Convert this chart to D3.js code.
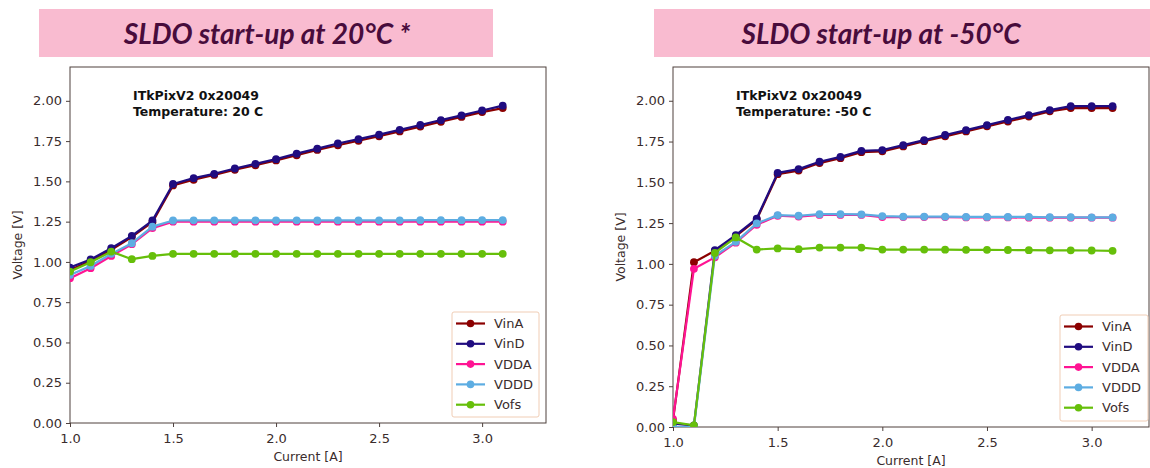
<!DOCTYPE html>
<html><head><meta charset="utf-8">
<script src="https://cdn.jsdelivr.net/npm/d3@7"></script>
<style>
html,body{margin:0;padding:0;background:#fff;}
svg{display:block;}
</style></head>
<body>
<svg id="chart" width="1150" height="468"></svg>
<script>
// ---- data ----
const current = [1.0,1.1,1.2,1.3,1.4,1.5,1.6,1.7,1.8,1.9,2.0,2.1,2.2,2.3,2.4,2.5,2.6,2.7,2.8,2.9,3.0,3.1];
const seriesNames = ["VinA","VinD","VDDA","VDDD","Vofs"];
const seriesColors = ["#8b0000","#200c80","#ff1493","#5dade2","#66bf0a"];
const xTicks = [1.0,1.5,2.0,2.5,3.0];
const yTicks = [0.00,0.25,0.50,0.75,1.00,1.25,1.50,1.75,2.00];

// 20 C
const vinA20 = [0.950,1.005,1.075,1.155,1.247,1.475,1.510,1.540,1.572,1.600,1.630,1.662,1.695,1.724,1.752,1.780,1.810,1.840,1.870,1.900,1.930,1.955];
const vinD20 = [0.965,1.015,1.085,1.162,1.257,1.484,1.520,1.547,1.580,1.609,1.638,1.672,1.703,1.735,1.762,1.790,1.820,1.850,1.880,1.910,1.940,1.970];
const vdda20 = [0.899,0.961,1.037,1.110,1.210,1.250,1.250,1.250,1.250,1.250,1.250,1.250,1.250,1.250,1.250,1.250,1.250,1.250,1.250,1.250,1.250,1.250];
const vddd20 = [0.919,0.975,1.050,1.116,1.219,1.257,1.258,1.258,1.258,1.258,1.258,1.258,1.258,1.258,1.258,1.258,1.258,1.259,1.259,1.259,1.260,1.260];
const vofs20 = [0.940,0.998,1.064,1.017,1.037,1.050,1.050,1.050,1.050,1.050,1.050,1.050,1.050,1.050,1.050,1.050,1.050,1.050,1.050,1.050,1.050,1.050];

// -50 C
const vinA50 = [0.040,1.010,1.080,1.170,1.272,1.550,1.572,1.618,1.648,1.685,1.690,1.720,1.752,1.782,1.812,1.843,1.873,1.903,1.935,1.955,1.955,1.955];
const vinD50 = [0.020,0.010,1.084,1.176,1.278,1.558,1.581,1.626,1.656,1.693,1.698,1.728,1.759,1.790,1.820,1.851,1.882,1.912,1.943,1.967,1.967,1.967];
const vdda50 = [0.050,0.970,1.040,1.130,1.240,1.295,1.290,1.300,1.300,1.300,1.287,1.287,1.287,1.287,1.285,1.285,1.285,1.283,1.283,1.283,1.283,1.283];
const vddd50 = [0.000,0.000,1.050,1.135,1.248,1.299,1.295,1.305,1.305,1.303,1.293,1.290,1.290,1.290,1.288,1.288,1.288,1.288,1.286,1.286,1.285,1.285];
const vofs50 = [0.030,0.010,1.067,1.162,1.088,1.095,1.090,1.100,1.100,1.100,1.088,1.088,1.088,1.087,1.086,1.086,1.085,1.084,1.083,1.083,1.082,1.080];

const panels = [
  {title:"SLDO start-up at 20°C *", box:[39,9,454,48], titleX:267,
   ann1:"ITkPixV2 0x20049", ann2:"Temperature: 20 C",
   left:70, right:546, top:67, bottom:423, xMax:3.31, yMax:2.21,
   series:[vinA20,vinD20,vdda20,vddd20,vofs20], legend:[452,312,87,105]},
  {title:"SLDO start-up at -50°C", box:[654,9,500,48], titleX:881,
   ann1:"ITkPixV2 0x20049", ann2:"Temperature: -50 C",
   left:673, right:1149, top:67, bottom:427, xMax:3.274, yMax:2.207,
   series:[vinA50,vinD50,vdda50,vddd50,vofs50], legend:[1060,315,88,106]}
];

const svg = d3.select("#chart");
const txtCol = "#3a2c2c";
const spineCol = "#4e403d";

panels.forEach((p, pi) => {
  // title box
  svg.append("rect").attr("x",p.box[0]).attr("y",p.box[1]).attr("width",p.box[2]).attr("height",p.box[3])
    .attr("fill","#f9bbd0");
  svg.append("text").attr("x",p.titleX).attr("y",44).attr("text-anchor","middle")
    .attr("font-family","Lato, 'Open Sans', sans-serif").attr("font-style","italic").attr("font-weight","bold")
    .attr("font-size",28).attr("fill","#480c3c").text(p.title);

  const x = d3.scaleLinear().domain([1.0,p.xMax]).range([p.left,p.right]);
  const y = d3.scaleLinear().domain([0,p.yMax]).range([p.bottom,p.top]);

  const g = svg.append("g");
  const clipId = "clip"+pi;
  svg.append("defs").append("clipPath").attr("id",clipId).append("rect")
    .attr("x",p.left).attr("y",p.top).attr("width",p.right-p.left).attr("height",p.bottom-p.top);

  // axes
  const xAxis = d3.axisBottom(x).tickValues(xTicks).tickFormat(d3.format(".1f")).tickSize(4).tickPadding(4);
  const yAxis = d3.axisLeft(y).tickValues(yTicks).tickFormat(d3.format(".2f")).tickSize(4).tickPadding(4);
  const gx = g.append("g").attr("transform",`translate(0,${p.bottom})`).call(xAxis);
  const gy = g.append("g").attr("transform",`translate(${p.left},0)`).call(yAxis);
  [gx,gy].forEach(a=>{
    a.select(".domain").remove();
    a.selectAll(".tick line").attr("stroke",spineCol).attr("stroke-width",1);
    a.selectAll(".tick text").attr("fill",txtCol).attr("font-family","'DejaVu Sans', sans-serif").attr("font-size",13);
  });
  gx.selectAll(".tick text").attr("dy","0.95em");

  // frame
  g.append("rect").attr("x",p.left).attr("y",p.top).attr("width",p.right-p.left).attr("height",p.bottom-p.top)
    .attr("fill","none").attr("stroke",spineCol).attr("stroke-width",1);

  // axis labels
  g.append("text").attr("x",(p.left+p.right)/2).attr("y",p.bottom+38).attr("text-anchor","middle")
    .attr("font-family","'DejaVu Sans', sans-serif").attr("font-size",12.5).attr("fill",txtCol).text("Current [A]");
  g.append("text").attr("transform",`translate(${p.left-48},${(p.top+p.bottom)/2}) rotate(-90)`)
    .attr("text-anchor","middle")
    .attr("font-family","'DejaVu Sans', sans-serif").attr("font-size",12.5).attr("fill",txtCol).text("Voltage [V]");

  // annotation
  const ax = p.left + 63;
  g.append("text").attr("x",ax).attr("y",100).attr("font-family","'DejaVu Sans', sans-serif").attr("font-weight","bold")
    .attr("font-size",12.5).attr("fill","#111").text(p.ann1);
  g.append("text").attr("x",ax).attr("y",116).attr("font-family","'DejaVu Sans', sans-serif").attr("font-weight","bold")
    .attr("font-size",12.5).attr("fill","#111").text(p.ann2);

  // series
  const plot = g.append("g").attr("clip-path",`url(#${clipId})`);
  const line = d3.line().x((d,i)=>x(current[i])).y(d=>y(d));
  p.series.forEach((vals, si) => {
    const c = seriesColors[si];
    plot.append("path").datum(vals).attr("d",line).attr("fill","none").attr("stroke",c)
      .attr("stroke-width",2.2).attr("stroke-linejoin","round");
    plot.selectAll(null).data(vals).enter().append("circle")
      .attr("cx",(d,i)=>x(current[i])).attr("cy",d=>y(d)).attr("r",3.9).attr("fill",c);
  });

  // legend
  const [lx,ly,lw,lh] = p.legend;
  const lg = g.append("g");
  lg.append("rect").attr("x",lx).attr("y",ly).attr("width",lw).attr("height",lh).attr("rx",2)
    .attr("fill","#fff").attr("stroke","#f0cdb5").attr("stroke-width",1);
  seriesNames.forEach((n,si)=>{
    const yy = ly + 11.5 + si*20.3;
    lg.append("line").attr("x1",lx+4).attr("x2",lx+33).attr("y1",yy).attr("y2",yy)
      .attr("stroke",seriesColors[si]).attr("stroke-width",2.2);
    lg.append("circle").attr("cx",lx+18.5).attr("cy",yy).attr("r",3.8).attr("fill",seriesColors[si]);
    lg.append("text").attr("x",lx+42).attr("y",yy).attr("dy","0.36em")
      .attr("font-family","'DejaVu Sans', sans-serif").attr("font-size",13).attr("fill",txtCol).text(n);
  });
});
</script>
</body></html>
